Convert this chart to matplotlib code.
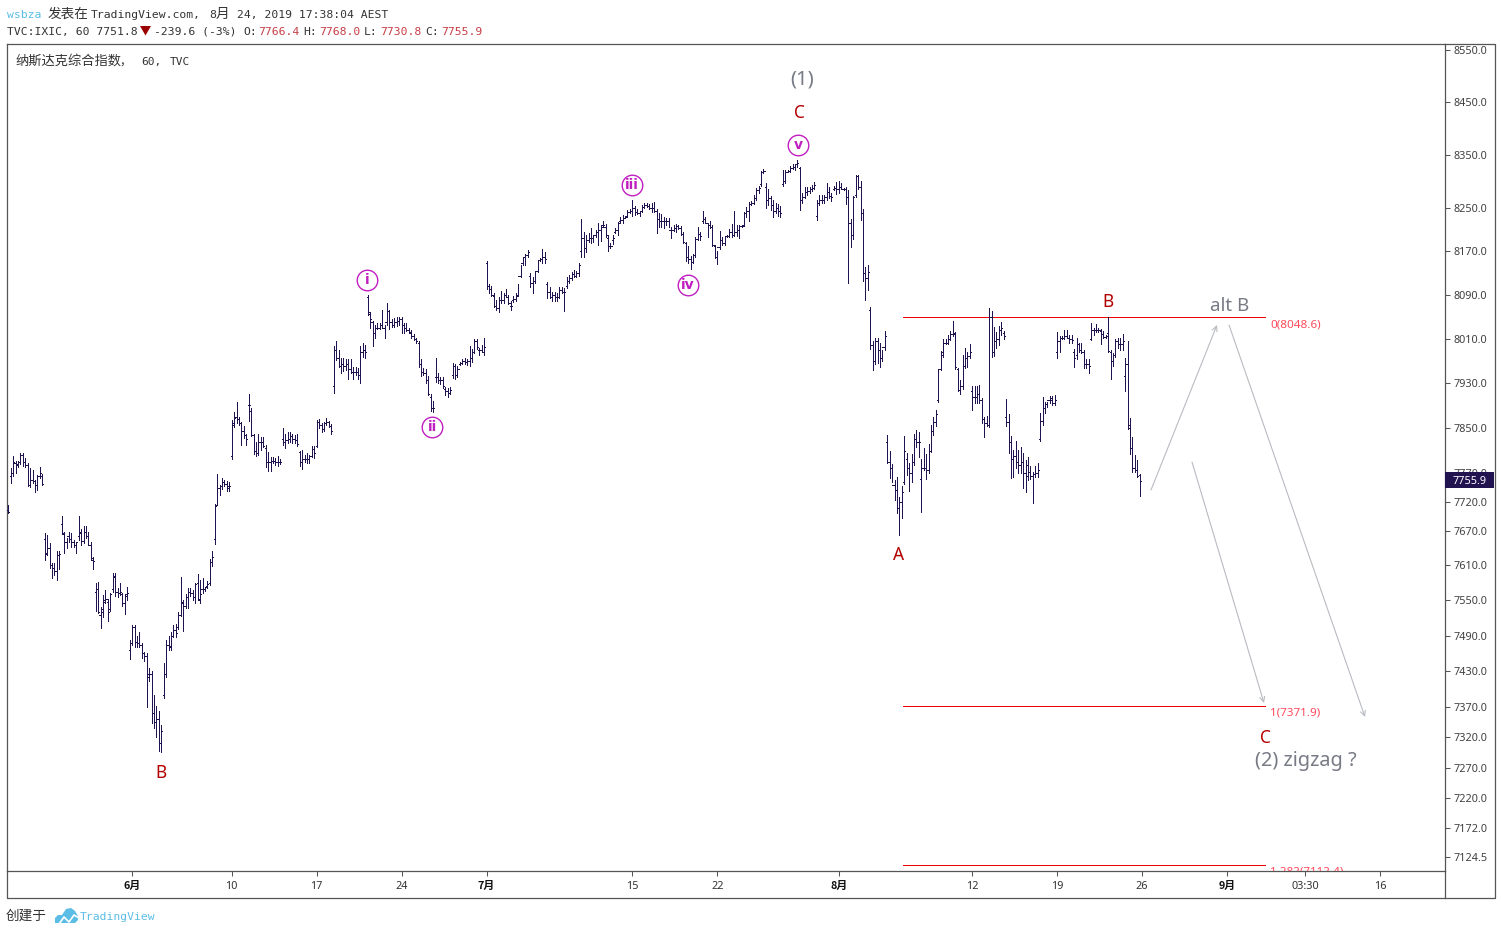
# nasdaq_elliott_wave.py
import matplotlib
matplotlib.use('Agg')
import numpy as np
import matplotlib.pyplot as plt
from matplotlib.collections import LineCollection
from matplotlib.lines import Line2D
from matplotlib.patches import Polygon, Rectangle
from matplotlib.ticker import NullLocator

# -------------------------------------------------
# Hourly bars for TVC:IXIC
# -------------------------------------------------
opens = [
    7705,7765,7770,7788,7785,7790,7802,7790,7785,7750,
    7758,7757,7750,7765,7765,7655,7630,7640,7610,7605,
    7600,7628,7682,7664,7650,7660,7655,7650,7645,7660,
    7665,7652,7668,7660,7645,7620,7565,7570,7525,7530,
    7550,7548,7535,7570,7590,7565,7562,7560,7545,7560,
    7466,7478,7505,7480,7478,7475,7460,7455,7420,7425,
    7360,7345,7350,7310,7390,7425,7475,7470,7490,7500,
    7505,7525,7545,7540,7555,7565,7562,7555,7580,7550,
    7570,7570,7575,7580,7615,7655,7715,7745,7748,7755,
    7752,7748,7800,7855,7870,7866,7858,7845,7838,7890,
    7880,7838,7810,7805,7825,7825,7815,7790,7790,7792,
    7792,7790,7790,7830,7825,7828,7830,7835,7830,7828,
    7808,7790,7795,7795,7795,7800,7812,7818,7860,7855,
    7848,7858,7860,7853,7925,7990,7975,7960,7965,7960,
    7965,7955,7950,7950,7950,7945,7985,7990,8085,8055,
    8040,8020,8030,8030,8035,8030,8040,8060,8040,8035,
    8040,8042,8045,8035,8030,8025,8020,8015,8010,8003,
    7965,7950,7948,7935,7905,7885,7940,7940,7935,7935,
    7920,7915,7912,7945,7960,7945,7964,7966,7970,7968,
    7970,7975,7985,8005,7990,7990,7985,8148,8105,8100,
    8088,8070,8065,8080,8080,8090,8085,8070,8080,8082,
    8090,8125,8148,8160,8162,8125,8112,8115,8133,8153,
    8155,8160,8110,8095,8085,8090,8085,8085,8098,8095,
    8105,8115,8120,8128,8125,8130,8170,8195,8175,8190,
    8195,8195,8200,8205,8210,8218,8215,8195,8180,8190,
    8205,8210,8225,8228,8232,8235,8243,8245,8250,8243,
    8240,8245,8252,8255,8254,8250,8250,8245,8230,8225,
    8225,8225,8225,8210,8210,8212,8216,8212,8202,8185,
    8160,8155,8150,8162,8192,8202,8225,8230,8222,8218,
    8215,8180,8160,8178,8190,8185,8198,8198,8205,8200,
    8205,8210,8216,8218,8240,8245,8257,8260,8268,8283,
    8295,8318,8290,8265,8268,8255,8245,8250,8245,8295,
    8300,8318,8320,8325,8326,8332,8325,8265,8270,8280,
    8282,8285,8288,8235,8260,8265,8265,8270,8280,8272,
    8285,8288,8285,8290,8285,8285,8270,8222,8200,8275,
    8310,8290,8240,8130,8120,8062,7998,7970,8005,7990,
    7975,7995,7825,7790,7780,7750,7740,7710,7720,7755,
    7795,7780,7770,7790,7830,7825,7760,7780,7780,7775,
    7810,7845,7860,7900,7955,7980,8002,8003,8010,8018,
    8018,7955,7918,7925,7960,7975,7978,7915,7905,7905,
    7910,7900,7865,7858,7855,8050,7985,8005,8010,8025,
    8020,7870,7860,7825,7795,7800,7790,7785,7790,7770,
    7785,7772,7765,7768,7770,7830,7862,7885,7892,7900,
    7900,7895,7985,8005,8012,8012,8015,8012,8010,7985,
    7980,8000,7990,7985,7965,7965,8010,8025,8026,8026,
    8023,8018,8013,8020,7985,7970,7980,8005,8000,8000,
    7942,7965,7850,7815,7780,7775,7766.4,
]
highs = [
    7714,7779,7800,7791,7791,7806,7806,7797,7788,7779,
    7776,7758,7767,7781,7769,7666,7662,7649,7614,7614,
    7634,7634,7695,7668,7657,7668,7666,7654,7650,7695,
    7673,7678,7678,7668,7650,7624,7580,7582,7539,7559,
    7568,7553,7563,7597,7597,7571,7580,7563,7561,7573,
    7483,7508,7508,7490,7497,7478,7463,7460,7436,7430,
    7391,7372,7363,7340,7443,7483,7490,7497,7508,7510,
    7530,7590,7551,7561,7571,7571,7568,7580,7595,7585,
    7588,7573,7583,7621,7634,7716,7769,7750,7762,7758,
    7757,7755,7864,7878,7896,7869,7860,7853,7840,7910,
    7885,7840,7825,7839,7834,7834,7820,7807,7798,7798,
    7797,7800,7795,7849,7840,7842,7842,7840,7837,7840,
    7809,7811,7802,7806,7802,7818,7818,7864,7866,7859,
    7860,7867,7862,7857,7996,8005,7989,7975,7975,7973,
    7973,7973,7958,7958,7957,7996,8002,7998,8089,8058,
    8042,8035,8038,8038,8062,8035,8075,8062,8046,8048,
    8049,8049,8049,8038,8038,8029,8025,8018,8012,8005,
    7973,7957,7955,7942,7910,7898,7975,7948,7940,7940,
    7923,7921,7923,7966,7964,7960,7968,7973,7975,7973,
    7996,7991,8009,8009,7994,7998,8011,8151,8109,8106,
    8093,8080,8085,8096,8093,8100,8089,8078,8087,8093,
    8109,8144,8159,8165,8172,8130,8122,8131,8153,8157,
    8174,8168,8113,8104,8095,8095,8093,8104,8104,8102,
    8122,8126,8131,8135,8133,8148,8229,8205,8200,8203,
    8213,8200,8209,8222,8218,8225,8220,8200,8185,8200,
    8213,8224,8233,8237,8235,8246,8248,8265,8254,8248,
    8244,8255,8259,8259,8257,8259,8261,8248,8241,8239,
    8233,8231,8231,8214,8218,8220,8218,8216,8205,8187,
    8179,8161,8165,8196,8214,8205,8244,8233,8222,8225,
    8218,8181,8170,8207,8196,8196,8200,8211,8220,8244,
    8218,8218,8218,8242,8252,8261,8263,8274,8287,8292,
    8319,8323,8296,8285,8272,8265,8259,8257,8254,8321,
    8321,8321,8328,8332,8330,8340,8327,8278,8289,8289,
    8289,8294,8298,8265,8274,8274,8274,8296,8289,8278,
    8292,8298,8300,8296,8287,8289,8283,8229,8272,8312,
    8312,8300,8248,8140,8144,8067,8005,8011,8012,8003,
    7989,8023,7837,7809,7786,7758,7763,7728,7748,7835,
    7806,7788,7804,7839,7846,7842,7795,7814,7804,7822,
    7855,7869,7882,7953,7987,8009,8009,8016,8023,8042,
    8022,7957,7935,7980,7994,7985,8000,7924,7924,7924,
    7926,7903,7869,7871,8065,8060,8031,8022,8033,8040,
    8023,7901,7874,7835,7811,7827,7811,7816,7806,7793,
    7798,7783,7772,7783,7788,7876,7905,7896,7896,7907,
    7907,7908,8022,8014,8014,8025,8025,8016,8016,7991,
    8011,8003,8002,7989,7973,7973,8038,8029,8036,8029,
    8027,8023,8016,8049,7989,7984,8009,8011,8011,8018,
    7975,8005,7867,7834,7802,7793,7768.0,
]
lows = [
    7701,7753,7765,7770,7781,7786,7783,7781,7748,7746,
    7753,7737,7741,7762,7750,7619,7628,7605,7588,7593,
    7585,7604,7664,7631,7640,7650,7641,7641,7631,7654,
    7645,7649,7657,7645,7619,7604,7532,7529,7503,7522,
    7546,7514,7531,7565,7558,7556,7559,7541,7527,7551,
    7450,7475,7471,7470,7470,7453,7448,7370,7413,7343,
    7336,7320,7298,7296,7386,7420,7465,7465,7487,7488,
    7502,7524,7498,7537,7537,7558,7551,7546,7551,7546,
    7563,7566,7571,7577,7609,7647,7714,7732,7743,7748,
    7739,7739,7795,7851,7859,7855,7820,7832,7820,7862,
    7835,7804,7800,7802,7811,7816,7781,7774,7774,7788,
    7784,7783,7786,7820,7814,7823,7825,7823,7823,7818,
    7783,7778,7790,7788,7788,7798,7797,7816,7850,7842,
    7844,7855,7851,7839,7912,7971,7958,7948,7951,7953,
    7937,7948,7937,7944,7937,7930,7976,7975,8053,8029,
    7996,8012,8027,8027,8029,8011,8035,8027,8031,8031,
    8033,8035,8020,8020,8023,8020,8011,8007,8003,7958,
    7942,7944,7930,7908,7880,7878,7932,7930,7928,7921,
    7908,7905,7910,7939,7937,7940,7962,7964,7964,7962,
    7960,7968,7984,7991,7980,7985,7980,8100,8093,8087,
    8067,8062,8058,8075,8075,8085,8073,8062,8076,8078,
    8087,8122,8144,8144,8159,8104,8093,8111,8131,8151,
    8149,8148,8084,8084,8078,8078,8078,8084,8093,8060,
    8102,8111,8117,8122,8122,8124,8159,8159,8168,8187,
    8185,8187,8196,8181,8188,8214,8196,8170,8176,8183,
    8203,8200,8222,8222,8231,8233,8241,8235,8237,8239,
    8235,8242,8250,8252,8248,8242,8242,8203,8214,8214,
    8213,8218,8214,8194,8207,8205,8211,8200,8185,8151,
    8149,8137,8149,8159,8190,8190,8222,8222,8196,8213,
    8179,8157,8146,8174,8181,8181,8196,8196,8196,8198,
    8198,8194,8214,8216,8233,8225,8255,8257,8265,8278,
    8292,8315,8250,8255,8246,8233,8241,8235,8233,8292,
    8296,8317,8317,8323,8321,8327,8246,8259,8268,8274,
    8278,8281,8285,8227,8255,8259,8259,8265,8268,8263,
    8283,8276,8278,8285,8283,8257,8111,8178,8192,8270,
    8285,8227,8115,8080,8098,7992,7953,7964,7966,7958,
    7969,7989,7788,7762,7755,7723,7701,7662,7692,7751,
    7767,7739,7755,7784,7816,7798,7703,7776,7760,7770,
    7807,7837,7853,7896,7953,7976,8000,8000,8007,8014,
    7955,7915,7910,7919,7957,7958,7975,7882,7894,7894,
    7894,7859,7834,7853,7851,7976,7978,7993,7998,8016,
    8009,7853,7806,7762,7763,7779,7770,7770,7744,7737,
    7758,7760,7718,7763,7763,7827,7855,7876,7887,7894,
    7891,7891,7975,7985,8009,8009,8011,8003,8002,7958,
    7973,7985,7984,7957,7957,7948,8007,8016,8022,8022,
    8000,8011,8011,7985,7937,7960,7976,7993,7989,7989,
    7915,7848,7804,7772,7772,7763,7730.8,
]
closes = [
    7703,7770,7790,7787,7789,7802,7790,7784,7750,7758,
    7757,7750,7765,7770,7752,7632,7640,7610,7605,7600,
    7628,7630,7665,7650,7660,7655,7650,7645,7650,7668,
    7652,7668,7660,7645,7622,7618,7570,7530,7535,7548,
    7552,7530,7560,7592,7565,7562,7565,7545,7558,7562,
    7478,7505,7480,7478,7475,7460,7455,7425,7425,7360,
    7345,7350,7310,7330,7425,7475,7472,7490,7500,7495,
    7525,7547,7540,7555,7565,7562,7555,7578,7552,7560,
    7570,7572,7578,7615,7625,7712,7745,7748,7755,7752,
    7745,7748,7858,7868,7866,7858,7845,7838,7830,7890,
    7838,7810,7805,7825,7825,7818,7790,7790,7792,7792,
    7790,7790,7790,7825,7828,7830,7835,7830,7828,7822,
    7790,7795,7795,7795,7800,7812,7805,7860,7855,7848,
    7858,7860,7853,7845,7990,7975,7960,7965,7960,7965,
    7955,7950,7950,7950,7945,7985,7990,7985,8058,8045,
    8020,8030,8030,8035,8030,8040,8060,8040,8035,8040,
    8042,8045,8035,8030,8025,8022,8015,8010,8005,7965,
    7950,7948,7935,7910,7885,7885,7940,7935,7935,7925,
    7915,7912,7918,7960,7945,7955,7966,7970,7968,7970,
    7975,7985,8005,7995,7990,7985,7995,8105,8100,8090,
    8070,8065,8080,8080,8090,8085,8075,8070,8082,8088,
    8125,8148,8160,8162,8168,8112,8115,8133,8153,8155,
    8160,8155,8095,8085,8090,8085,8085,8098,8095,8095,
    8115,8120,8128,8125,8130,8145,8195,8175,8190,8195,
    8195,8200,8205,8210,8215,8218,8200,8180,8180,8195,
    8210,8222,8228,8232,8233,8243,8245,8250,8243,8241,
    8245,8252,8255,8254,8250,8250,8245,8230,8225,8225,
    8225,8225,8210,8210,8212,8216,8212,8202,8186,8160,
    8155,8150,8162,8192,8202,8198,8230,8222,8218,8215,
    8181,8160,8178,8190,8185,8198,8198,8205,8200,8205,
    8210,8216,8216,8240,8245,8257,8260,8268,8283,8288,
    8318,8320,8265,8268,8255,8245,8250,8245,8240,8300,
    8318,8320,8325,8326,8332,8335,8265,8270,8280,8282,
    8285,8288,8293,8260,8265,8265,8270,8280,8272,8270,
    8288,8285,8290,8285,8285,8270,8222,8200,8270,8310,
    8290,8240,8130,8120,8132,7998,7970,8005,7990,7975,
    7995,8015,7790,7780,7750,7740,7710,7720,7738,7810,
    7780,7770,7790,7830,7825,7825,7780,7780,7775,7810,
    7845,7860,7875,7955,7985,8003,8003,8010,8018,8020,
    7958,7918,7925,7960,7975,7978,7985,7905,7905,7910,
    7900,7865,7858,7855,8050,7985,8005,8010,8025,8030,
    8015,7860,7825,7795,7800,7790,7785,7790,7770,7765,
    7772,7765,7768,7770,7775,7862,7885,7892,7900,7903,
    7895,7900,8005,8012,8012,8015,8012,8010,8008,7975,
    8000,7990,7985,7965,7965,7960,8025,8026,8026,8025,
    8018,8013,8015,7987,7970,7980,8005,8000,8000,8005,
    7965,7855,7815,7780,7775,7766,7755.9,
]

price_ticks = [8550, 8450, 8350, 8250, 8170, 8090, 8010, 7930, 7850, 7770, 7720, 7670,
               7610, 7550, 7490, 7430, 7370, 7320, 7270, 7220, 7172, 7124.5]
time_tick_bars = [51, 92, 127, 162, 197, 257, 292, 342, 397, 432, 467, 502, 534, 565]
time_tick_labels = ['6月', '10', '17', '24', '7月', '15', '22', '8月', '12', '19', '26', '9月', '03:30', '16']
fib_levels = [8048.6, 7371.9, 7112.4]
fib_names = ['0', '1', '1.282']
last_close = closes[-1]

# -------------------------------------------------
# Figure and pane layout, in pixels from the top left
# -------------------------------------------------
W, H = 1501, 934
PANE_L, PANE_R, PANE_T, PANE_B = 6.5, 1444.5, 43.5, 870.5
OUTER_R, OUTER_B = 1494.5, 897.5
BAR_X0, BAR_STEP = 8.3, 2.428
INK = '#20134f'
FRAME = '#555555'
RED = '#b20000'
GREY = '#787b86'
PURPLE = '#c01fc0'
QUOTE = '#c63d45'
FIB = '#f00000'
FIB_TEXT = '#ff4a5c'
SKY = '#5bbde6'
ARROW = '#b8bbc2'
TEXT = '#333333'
MONO = ['DejaVu Sans Mono']
CJK = ['Noto Sans CJK SC', 'DejaVu Sans']

plt.rcParams['font.family'] = ['Noto Sans', 'Noto Sans CJK SC', 'DejaVu Sans']

fig = plt.figure(figsize=(W / 100, H / 100), dpi=100, facecolor='white')
ax = fig.add_axes([PANE_L / W, 1 - PANE_B / H, (PANE_R - PANE_L) / W, (PANE_B - PANE_T) / H])


def bar_at(x):
    return (x - BAR_X0) / BAR_STEP


def fx(x):
    return x / W


def fy(y):
    return 1 - y / H


def put(x, y, s, **kw):
    kw.setdefault('va', 'center')
    return fig.text(fx(x), fy(y), s, **kw)


# Log price scale, anchored so 8550 sits at y=50 and 7124.5 at y=857
scale = (np.log(8550) - np.log(7124.5)) / (857 - 50)
ax.set_yscale('log')
ax.set_ylim(8550 * np.exp(-(PANE_B - 50) * scale), 8550 * np.exp((50 - PANE_T) * scale))
ax.set_xlim(bar_at(PANE_L), bar_at(PANE_R))

# -------------------------------------------------
# OHLC bars
# -------------------------------------------------
idx = np.arange(len(closes))
stems = [[(i, l), (i, h)] for i, l, h in zip(idx, lows, highs)]
open_ticks = [[(i - 0.45, o), (i, o)] for i, o in zip(idx, opens)]
close_ticks = [[(i, c), (i + 0.45, c)] for i, c in zip(idx, closes)]
for segs in (stems, open_ticks, close_ticks):
    ax.add_collection(LineCollection(segs, colors=INK, linewidths=0.72, antialiaseds=False, zorder=3))

# -------------------------------------------------
# Fibonacci levels
# -------------------------------------------------
fib_x0, fib_x1 = bar_at(903), bar_at(1265)
ax.hlines(fib_levels, fib_x0, fib_x1, colors=FIB, linewidths=0.72, antialiaseds=False, zorder=2)
for level, name in zip(fib_levels, fib_names):
    ax.annotate(f'{name}({level})', xy=(fib_x1, level), xytext=(5, -7.5), textcoords='offset pixels',
                fontsize=8.4, color=FIB_TEXT, va='center', ha='left',
                annotation_clip=False, clip_on=True)

# -------------------------------------------------
# Price and time scales
# -------------------------------------------------
ax.yaxis.tick_right()
ax.yaxis.set_minor_locator(NullLocator())
ax.set_yticks(price_ticks)
ax.set_yticklabels([f'{p:.1f}' for p in price_ticks])
ax.tick_params(axis='y', which='major', length=3.6, width=0.75, color=FRAME, labelsize=7.8,
               labelcolor='#404040', pad=3)
ax.set_xticks(time_tick_bars)
ax.set_xticklabels(time_tick_labels)
ax.tick_params(axis='x', which='major', length=3.6, width=0.75, color=FRAME, labelsize=7.8,
               labelcolor='#333333', pad=4)
for lab in ax.get_xticklabels():
    if '月' in lab.get_text():
        lab.set_fontfamily(CJK)
        lab.set_fontweight('bold')
        lab.set_color('#111111')
for side in ax.spines.values():
    side.set_color(FRAME)
    side.set_linewidth(0.9)
ax.patch.set_alpha(0)

# outer frame around both scales
fig.add_artist(Line2D([fx(PANE_R), fx(OUTER_R), fx(OUTER_R), fx(PANE_L), fx(PANE_L)],
                      [fy(PANE_T), fy(PANE_T), fy(OUTER_B), fy(OUTER_B), fy(PANE_B)],
                      color=FRAME, lw=0.9, transform=fig.transFigure))
fig.add_artist(Line2D([fx(PANE_R), fx(PANE_R)], [fy(PANE_B), fy(OUTER_B)],
                      color=FRAME, lw=0.9, transform=fig.transFigure))

# last price badge
fig.add_artist(Rectangle((fx(PANE_R + 0.5), fy(488.5)), (OUTER_R - PANE_R - 1) / W, 16 / H,
                         facecolor=INK, edgecolor='none', transform=fig.transFigure, zorder=5))
put(1453, 481, f'{last_close:.1f}', color='white', fontsize=7.8, fontweight='bold', zorder=6)

# -------------------------------------------------
# Wave labels
# -------------------------------------------------
for x, y, s in [(161, 773, 'B'), (799, 113, 'C'), (899, 555, 'A'), (1108, 302, 'B'), (1265, 738, 'C')]:
    put(x, y, s, color=RED, fontsize=12.5, ha='center')
put(802, 79, '(1)', color=GREY, fontsize=14.5, ha='center')
put(1230, 306, 'alt B', color=GREY, fontsize=13.5, ha='center')
put(1306, 761, '(2) zigzag ?', color=GREY, fontsize=14.3, ha='center')

for x, y, s in [(367, 280, 'i'), (432, 427, 'ii'), (632, 185, 'iii'), (688, 285, 'iv'), (798, 145, 'v')]:
    fig.add_artist(Line2D([fx(x)], [fy(y)], marker='o', markersize=14.8, markerfacecolor='none',
                          markeredgecolor=PURPLE, markeredgewidth=1.0, transform=fig.transFigure))
    put(x, y, s, color=PURPLE, fontsize=10, fontweight='bold', ha='center', family=['DejaVu Sans'])

# projected paths
for start, end in [((1151, 490), (1217, 325)), ((1229, 325), (1365, 717)), ((1192, 462), (1264, 703))]:
    ax.annotate('', xy=(end[0], H - end[1]), xytext=(start[0], H - start[1]),
                xycoords='figure pixels', textcoords='figure pixels', annotation_clip=False,
                arrowprops=dict(arrowstyle='->', color=ARROW, lw=0.8, mutation_scale=9,
                                shrinkA=0, shrinkB=0))

# -------------------------------------------------
# Header lines, set on a common baseline
# -------------------------------------------------
put(7, 18, 'wsbza', color=SKY, fontsize=8.2, family=MONO, va='baseline')
put(48, 18, '发表在', color=TEXT, fontsize=9.8, family=CJK, va='baseline')
put(90.5, 18, 'TradingView.com,', color=TEXT, fontsize=8.2, family=MONO, va='baseline')
put(209, 18, '8', color=TEXT, fontsize=8.2, family=MONO, va='baseline')
put(216, 18, '月', color=TEXT, fontsize=9.8, family=CJK, va='baseline')
put(237, 18, '24, 2019 17:38:04 AEST', color=TEXT, fontsize=8.2, family=MONO, va='baseline')

put(7, 35, 'TVC:IXIC, 60 7751.8', color=TEXT, fontsize=8.2, family=MONO, va='baseline')
fig.add_artist(Polygon([(fx(140), fy(26)), (fx(151), fy(26)), (fx(145.5), fy(35.5))], closed=True,
                       facecolor='#990000', edgecolor='none', transform=fig.transFigure))
put(154, 35, '-239.6 (-3%)', color=TEXT, fontsize=8.2, family=MONO, va='baseline')
for x_key, x_val, key, val in [(243, 258, 'O:', opens[-1]), (303, 319, 'H:', highs[-1]),
                               (364, 380, 'L:', lows[-1]), (425, 441, 'C:', closes[-1])]:
    put(x_key, 35, key, color=TEXT, fontsize=8.2, family=MONO, va='baseline')
    put(x_val, 35, f'{val:.1f}', color=QUOTE, fontsize=8.2, family=MONO, va='baseline')

put(15, 65, '纳斯达克综合指数', color=TEXT, fontsize=9.5, family=CJK, va='baseline')
put(120, 65, ',', color=TEXT, fontsize=9.5, family=CJK, va='baseline')
put(141, 65, '60,', color=TEXT, fontsize=8, family=MONO, va='baseline')
put(170, 65, 'TVC', color=TEXT, fontsize=8, family=MONO, va='baseline')

# -------------------------------------------------
# Footer
# -------------------------------------------------
put(6, 916, '创建于', color=TEXT, fontsize=9.8, family=CJK)
cloud = [(55, 923), (55, 918), (58, 915), (62, 915), (66, 909), (71, 908), (75, 911), (78, 916),
         (78, 920), (75, 923)]
fig.add_artist(Polygon([(fx(x), fy(y)) for x, y in cloud], closed=True, facecolor=SKY,
                       edgecolor='none', transform=fig.transFigure))
zig = [(59, 924), (64, 917), (69, 922), (74, 915), (79, 918)]
fig.add_artist(Line2D([fx(x) for x, y in zig], [fy(y) for x, y in zig], color='white', lw=1.2,
                      transform=fig.transFigure))
put(80, 917, 'TradingView', color=SKY, fontsize=8.2, family=MONO)

fig.savefig('out.png', dpi=100, facecolor='white')
